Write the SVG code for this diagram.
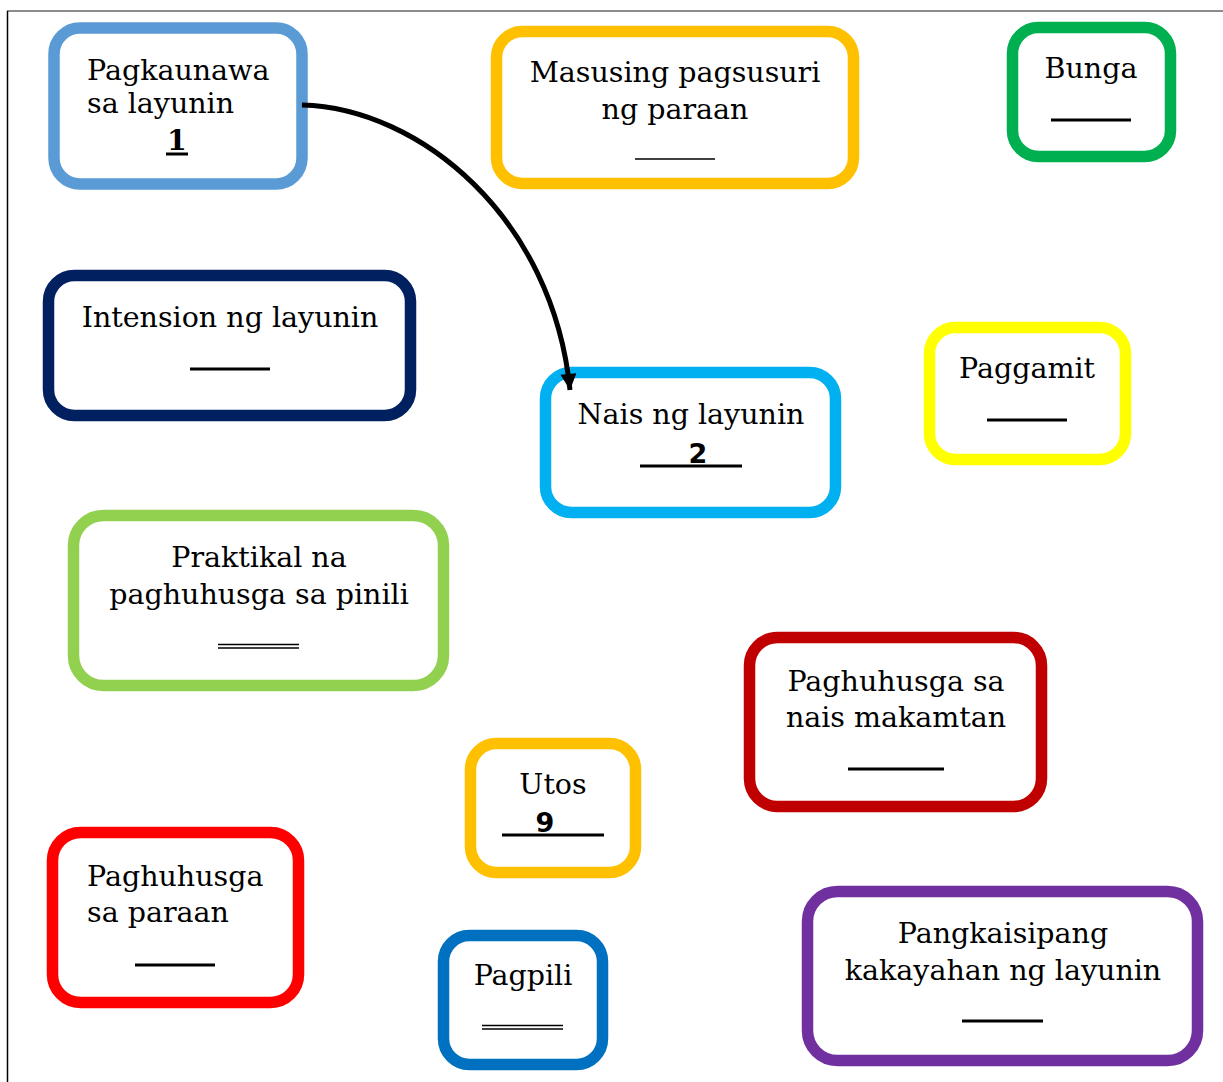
<svg xmlns="http://www.w3.org/2000/svg" width="1223" height="1082" viewBox="0 0 1223 1082">
<defs>
<style>
.box{fill:#fff;stroke-width:11.5}
.t{font-family:"DejaVu Serif","Liberation Serif",serif;font-size:28.5px;fill:#000}
.c{text-anchor:middle}
.b{font-weight:bold}
.s{font-family:"DejaVu Sans","Liberation Sans",sans-serif;font-size:27px}
.u{stroke:#000;stroke-width:3}
.u2{stroke:#000;stroke-width:1.5}
.con{fill:none;stroke:#000;stroke-width:5}
</style>
<marker id="ah" viewBox="0 0 10 10" refX="10" refY="5" markerWidth="3.6" markerHeight="3.2" orient="auto" markerUnits="strokeWidth">
<path d="M0,0 L10,5 L0,10 z" fill="#000"/>
</marker>
</defs>
<rect width="1223" height="1082" fill="#fff"/>
<line x1="7" y1="11" x2="1223" y2="11" stroke="#666" stroke-width="1.5"/>
<line x1="7.5" y1="11" x2="7.5" y2="1082" stroke="#000" stroke-width="1.5"/>

<g id="n1">
<rect class="box" x="54" y="28" width="248" height="156" rx="26" stroke="#5B9BD5"/>
<text class="t" x="87" y="80">Pagkaunawa</text>
<text class="t" x="87" y="113">sa layunin</text>
<text class="t c b" x="177" y="150">1</text>
<line class="u" x1="166" y1="154" x2="188" y2="154"/>
</g>
<g id="n2">
<rect class="box" x="496.5" y="31.5" width="357" height="152" rx="26" stroke="#FFC000"/>
<text class="t c" x="675" y="82">Masusing pagsusuri</text>
<text class="t c" x="675" y="119">ng paraan</text>
<line class="u2" x1="635" y1="159" x2="715" y2="159"/>
</g>
<g id="n3">
<rect class="box" x="1012.5" y="27.5" width="158" height="129" rx="26" stroke="#00B050"/>
<text class="t c" x="1091" y="78">Bunga</text>
<line class="u" x1="1051" y1="120" x2="1131" y2="120"/>
</g>
<g id="n4">
<rect class="box" x="48.5" y="275.5" width="362" height="140" rx="26" stroke="#002060"/>
<text class="t c" x="230" y="327">Intension ng layunin</text>
<line class="u" x1="190" y1="369" x2="270" y2="369"/>
</g>
<g id="n5">
<rect class="box" x="545.5" y="372.5" width="290" height="140" rx="26" stroke="#00B0F0"/>
<text class="t c" x="691" y="424">Nais ng layunin</text>
<text class="s c b" x="698" y="463">2</text>
<line class="u" x1="640" y1="466" x2="742" y2="466"/>
</g>
<g id="n6">
<rect class="box" x="929.5" y="327.5" width="196" height="132" rx="26" stroke="#FFFF00"/>
<text class="t c" x="1027" y="378">Paggamit</text>
<line class="u" x1="987" y1="420" x2="1067" y2="420"/>
</g>
<g id="n7">
<rect class="box" x="73.5" y="515.5" width="370" height="170" rx="30" stroke="#92D050"/>
<text class="t c" x="259" y="567">Praktikal na</text>
<text class="t c" x="259" y="604">paghuhusga sa pinili</text>
<line class="u2" x1="218" y1="644.5" x2="299" y2="644.5"/>
<line class="u2" x1="218" y1="648" x2="299" y2="648"/>
</g>
<g id="n8">
<rect class="box" x="749.5" y="637.5" width="292" height="169" rx="28" stroke="#C00000"/>
<text class="t c" x="896" y="691">Paghuhusga sa</text>
<text class="t c" x="896" y="727">nais makamtan</text>
<line class="u" x1="848" y1="769" x2="944" y2="769"/>
</g>
<g id="n9">
<rect class="box" x="470.5" y="743.5" width="165" height="129" rx="26" stroke="#FFC000"/>
<text class="t c" x="553" y="794">Utos</text>
<text class="s c b" x="545" y="832">9</text>
<line class="u" x1="502" y1="835" x2="604" y2="835"/>
</g>
<g id="n10">
<rect class="box" x="52.5" y="832.5" width="246" height="170" rx="28" stroke="#FF0000"/>
<text class="t" x="87" y="886">Paghuhusga</text>
<text class="t" x="87" y="922">sa paraan</text>
<line class="u" x1="135" y1="965" x2="215" y2="965"/>
</g>
<g id="n11">
<rect class="box" x="443.5" y="935.5" width="159" height="129" rx="26" stroke="#0070C0"/>
<text class="t c" x="523" y="985">Pagpili</text>
<line class="u2" x1="482" y1="1025.5" x2="563" y2="1025.5"/>
<line class="u2" x1="482" y1="1029" x2="563" y2="1029"/>
</g>
<g id="n12">
<rect class="box" x="807.5" y="891.5" width="390" height="169" rx="30" stroke="#7030A0"/>
<text class="t c" x="1003" y="943">Pangkaisipang</text>
<text class="t c" x="1003" y="980">kakayahan ng layunin</text>
<line class="u" x1="962" y1="1021" x2="1043" y2="1021"/>
</g>

<g id="connectors">
<path class="con" d="M302,105 C420,108 553,218 570,390" marker-end="url(#ah)"/>
</g>
</svg>
